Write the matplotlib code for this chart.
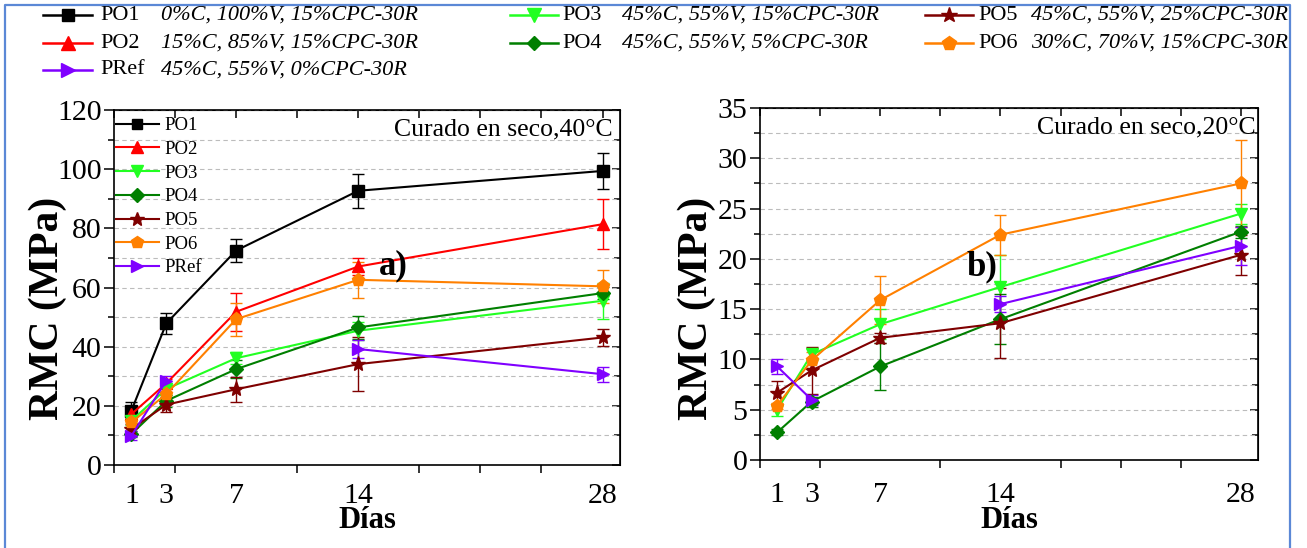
import matplotlib
matplotlib.use('Agg')
import matplotlib.pyplot as plt
import numpy as np
from matplotlib.lines import Line2D
from matplotlib.ticker import MultipleLocator, FixedLocator, NullFormatter

plt.rcParams['font.family'] = ['Liberation Serif', 'DejaVu Serif']

# ---------------- data ----------------
days = [1, 3, 7, 14, 28]
day_labels = ['1', '3', '7', '14', '28']
nan = np.nan

series_names = ['PO1', 'PO2', 'PO3', 'PO4', 'PO5', 'PO6', 'PRef']
series_desc = ['0%C, 100%V, 15%CPC-30R', '15%C, 85%V, 15%CPC-30R',
               '45%C, 55%V, 15%CPC-30R', '45%C, 55%V, 5%CPC-30R',
               '45%C, 55%V, 25%CPC-30R', '30%C, 70%V, 15%CPC-30R',
               '45%C, 55%V, 0%CPC-30R']
series_colors = ['#000000', '#FF0000', '#22FF22', '#007F00', '#7F0000', '#FF8000', '#8000FF']
series_markers = ['s', '^', 'v', 'D', '*', 'p', '>']
series_ms = [8, 9, 9, 7, 11, 9.5, 9]

# Panel a) Curado en seco, 40°C
a_PO1 = [18.4, 47.9, 72.5, 92.7, 99.4]
a_PO1_err = [3.0, 3.6, 3.8, 5.8, 6.0]
a_PO2 = [17.2, 27.6, 51.8, 67.1, 81.4]
a_PO2_err = [1.5, 1.5, 6.5, 3.0, 8.5]
a_PO3 = [15.0, 25.7, 36.1, 45.4, 55.5]
a_PO3_err = [1.5, 2.0, 2.0, 3.0, 6.0]
a_PO4 = [10.5, 21.7, 32.4, 46.5, 58.1]
a_PO4_err = [1.0, 2.0, 3.0, 4.0, 2.0]
a_PO5 = [12.2, 20.4, 25.6, 34.1, 43.1]
a_PO5_err = [1.5, 2.5, 4.2, 9.0, 3.0]
a_PO6 = [14.4, 24.0, 49.3, 62.6, 60.4]
a_PO6_err = [1.5, 2.5, 5.6, 6.0, 5.6]
a_PRef = [9.9, 28.5, nan, 39.2, 30.7]
a_PRef_err = [1.5, 1.5, nan, 3.0, 2.5]

# Panel b) Curado en seco, 20°C
b_PO3 = [5.0, 10.5, 13.5, 17.2, 24.5]
b_PO3_err = [0.6, 0.6, 1.5, 3.2, 1.0]
b_PO4 = [2.75, 5.8, 9.3, 14.0, 22.7]
b_PO4_err = [0.3, 0.5, 2.3, 2.5, 0.6]
b_PO5 = [6.7, 8.9, 12.15, 13.6, 20.4]
b_PO5_err = [1.2, 2.3, 0.5, 3.5, 2.0]
b_PO6 = [5.4, 9.9, 15.9, 22.4, 27.5]
b_PO6_err = [0.3, 0.8, 2.4, 2.0, 4.3]
b_PRef = [9.3, 6.0, nan, 15.5, 21.3]
b_PRef_err = [0.7, 0.5, nan, 0.8, 1.9]

panel_a = {'PO1': (a_PO1, a_PO1_err), 'PO2': (a_PO2, a_PO2_err),
           'PO3': (a_PO3, a_PO3_err), 'PO4': (a_PO4, a_PO4_err),
           'PO5': (a_PO5, a_PO5_err), 'PO6': (a_PO6, a_PO6_err),
           'PRef': (a_PRef, a_PRef_err)}
panel_b = {'PO3': (b_PO3, b_PO3_err), 'PO4': (b_PO4, b_PO4_err),
           'PO5': (b_PO5, b_PO5_err), 'PO6': (b_PO6, b_PO6_err),
           'PRef': (b_PRef, b_PRef_err)}

W, H = 1307, 548
fig = plt.figure(figsize=(W / 100, H / 100), dpi=100)


def fx(px):
    return px / W


def fy(py):
    return 1 - py / H


# blue frame
fig.add_artist(Line2D([fx(5), fx(5), fx(1290), fx(1290)],
                      [0, fy(5), fy(5), 0], transform=fig.transFigure,
                      color='#5B88D6', lw=1.6))


def style_axes(ax, ymax, ymajor, yminor, xpad, xlab_y, ylab_xy):
    ax.set_xlim(0, 29)
    ax.set_ylim(0, ymax)
    ax.xaxis.set_major_locator(FixedLocator(days))
    ax.set_xticklabels(day_labels)
    ax.xaxis.set_minor_locator(MultipleLocator(3.5))
    ax.tick_params(axis='x', which='major', length=0, labelsize=21.5, pad=xpad)
    ax.tick_params(axis='x', which='minor', length=6, width=1.1, direction='out')
    ax.yaxis.set_major_locator(MultipleLocator(ymajor))
    ax.yaxis.set_minor_locator(MultipleLocator(yminor))
    ax.tick_params(axis='y', which='major', length=7, width=1.1, direction='out',
                   labelsize=21.5, pad=2)
    ax.tick_params(axis='y', which='minor', length=4, width=1.1, direction='out')
    for s in ax.spines.values():
        s.set_linewidth(1.2)
    ax.grid(axis='y', which='both', color='#bcbcbc', linestyle=(0, (4, 3)), lw=0.8)
    ax.set_axisbelow(True)
    # mirror ticks (inward) on top and right
    top = ax.secondary_xaxis('top')
    top.xaxis.set_major_locator(MultipleLocator(3.5))
    top.tick_params(axis='x', which='major', direction='in', length=6, width=1.1,
                    labeltop=False)
    top.xaxis.set_major_formatter(NullFormatter())
    right = ax.secondary_yaxis('right')
    right.yaxis.set_major_locator(MultipleLocator(ymajor))
    right.yaxis.set_minor_locator(MultipleLocator(yminor))
    right.tick_params(axis='y', which='major', direction='in', length=6, width=1.1)
    right.tick_params(axis='y', which='minor', direction='in', length=4, width=1.1)
    right.yaxis.set_major_formatter(NullFormatter())
    ax.set_xlabel('Días', fontsize=22, fontweight='bold', va='center')
    ax.xaxis.set_label_coords(0.5, xlab_y)
    ax.set_ylabel('RMC (MPa)', fontsize=30, fontweight='bold', va='center', ha='center')
    ax.yaxis.set_label_coords(*ylab_xy)


def draw(ax, panel):
    for name, color, mk, ms in zip(series_names, series_colors, series_markers, series_ms):
        if name not in panel:
            continue
        vals, errs = panel[name]
        ax.errorbar(days, vals, yerr=errs, color=color, marker=mk, ms=ms,
                    lw=1.5, elinewidth=1.0, capsize=4, capthick=1.0, label=name)


# ---------- panel a ----------
axa = fig.add_axes([fx(114), fy(465), fx(620) - fx(114), fy(110) - fy(465)])
draw(axa, panel_a)
style_axes(axa, 120, 20, 10, 13, (465 - 521) / 355, (-0.130, 0.44))
handles = [Line2D([], [], color=c, marker=m, ms=s * 0.95, lw=1.5)
           for c, m, s in zip(series_colors, series_markers, series_ms)]
axa.legend(handles, series_names, loc='upper left', frameon=False, fontsize=13.5,
           handlelength=2.3, handletextpad=0.3, labelspacing=0.35, borderpad=0.1,
           borderaxespad=0.0, bbox_to_anchor=(0.0, 0.985))
axa.text(0.985, 0.975, 'Curado en seco,40°C', transform=axa.transAxes,
         ha='right', va='top', fontsize=18.5)
axa.text(16.0, 67.4, 'a)', ha='center', va='center', fontsize=25, fontweight='bold')

# ---------- panel b ----------
axb = fig.add_axes([fx(760), fy(460), fx(1258) - fx(760), fy(108) - fy(460)])
draw(axb, panel_b)
style_axes(axb, 35, 5, 2.5, 16, (460 - 521) / 352, (-0.1265, 0.43))
axb.text(0.995, 0.975, 'Curado en seco,20°C', transform=axb.transAxes,
         ha='right', va='top', fontsize=18.5)
axb.text(12.9, 19.2, 'b)', ha='center', va='center', fontsize=25, fontweight='bold')

# ---------- top legend ----------
cols_x = [(43, 92, 100, 161), (510, 558, 562, 622), (925, 973, 978, 1031)]
rows_y = [15, 43, 70]
layout = [(0, 0), (0, 1), (1, 0), (1, 1), (2, 0), (2, 1), (0, 2)]
for i, (ci, ri) in enumerate(layout):
    x0, x1, xl, xd = cols_x[ci]
    y = rows_y[ri]
    fig.add_artist(Line2D([fx(x0), fx(x1)], [fy(y), fy(y)], transform=fig.transFigure,
                          color=series_colors[i], lw=1.8))
    fig.add_artist(Line2D([fx((x0 + x1) / 2)], [fy(y)], transform=fig.transFigure,
                          color=series_colors[i], marker=series_markers[i],
                          ms=series_ms[i] * 1.05, lw=0))
    fig.text(fx(xl), fy(y), series_names[i], ha='left', va='center', fontsize=16)
    fig.text(fx(xd), fy(y), series_desc[i], ha='left', va='center', fontsize=16,
             style='italic')

fig.savefig('out.png', dpi=100)
